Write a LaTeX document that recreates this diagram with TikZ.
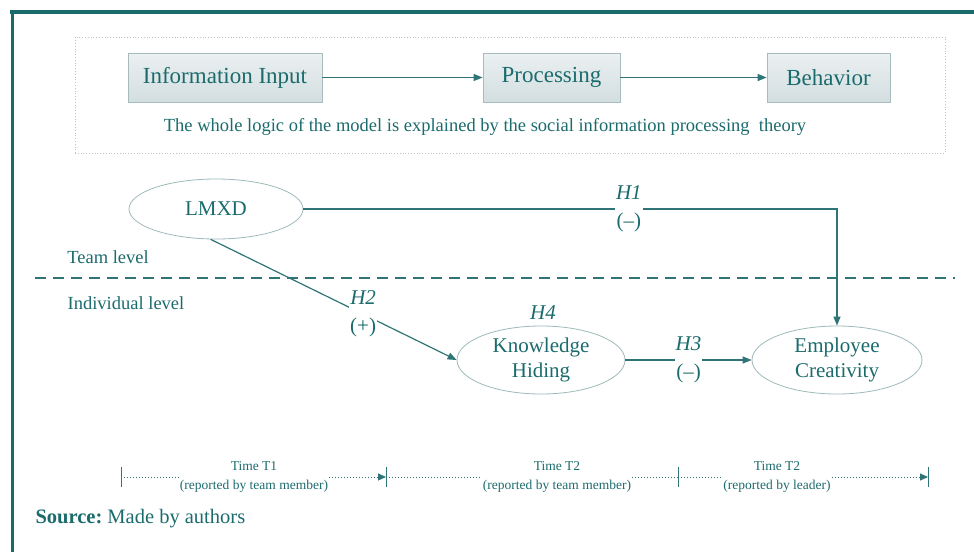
\documentclass[tikz,border=0pt]{standalone}
\usepackage{fontspec}
\setmainfont{Liberation Serif}
\usetikzlibrary{arrows.meta,shapes.geometric}
\definecolor{teal1}{HTML}{1B6B6D}
\definecolor{line1}{HTML}{2F7476}
\definecolor{ebord}{HTML}{9FB9BB}
\definecolor{bbord}{HTML}{A7BABC}
\definecolor{btop}{HTML}{EBF0F1}
\definecolor{bbot}{HTML}{D3DEE0}
\definecolor{dotg}{HTML}{B7C6C8}
\tikzset{
  sbox/.style={draw=bbord,line width=0.8pt,top color=btop,bottom color=bbot,minimum height=49pt,inner sep=0pt,text=teal1,font=\fontsize{23}{24}\selectfont},
  ell/.style={ellipse,draw=ebord,line width=0.8pt,inner sep=0pt,text=teal1,align=center,font=\fontsize{21}{25}\selectfont},
  conn/.style={draw=line1,line width=1.2pt,-{Triangle[length=9pt,width=7pt]}},
  hlab/.style={fill=white,inner sep=1pt,align=center,text=teal1,font=\fontsize{21}{28}\selectfont},
  lvl/.style={text=teal1,font=\fontsize{18.5}{20}\selectfont},
  tlab/.style={text=teal1,align=center,font=\fontsize{13.5}{19}\selectfont,inner sep=1pt},
  tl/.style={draw=line1,line width=1pt,dotted},
}
\begin{document}
\begin{tikzpicture}[x=1pt,y=-1pt]
\useasboundingbox (0,0) rectangle (974,552);
% frame
\draw[teal1,line width=4pt] (10,12) -- (974,12);
\draw[teal1,line width=3pt] (12,10) -- (12,552);
% top panel
\node[draw=dotg,dotted,line width=0.8pt,minimum width=870pt,minimum height=116pt,inner sep=0pt] (panel) at (510,95) {};
\node[sbox,minimum width=194pt] (inp) at (225,77.5) {Information Input};
\node[sbox,minimum width=137pt] (proc) at (551.5,77.5) {Processing};
\node[sbox,minimum width=123pt] (beh) at (828.5,77.5) {Behavior};
\draw[conn] (inp) -- (proc);
\draw[conn] (proc) -- (beh);
\node[text=teal1,font=\fontsize{18.5}{20}\selectfont] (cap) at (485,127) {The whole logic of the model is explained by the social information processing\ \ theory};
% levels
\draw[line1,line width=1.2pt,dash pattern=on 11pt off 7pt] (35,278) coordinate (dl) -- (955,278) coordinate (dr);
\node[lvl] (team) at (108,257) {Team level};
\node[lvl] (indiv) at (126,303) {Individual level};
% ellipses
\node[ell,minimum width=174pt,minimum height=60pt] (lmxd) at (216,209) {LMXD};
\node[ell,minimum width=168pt,minimum height=68pt] (kh) at (541,360) {Knowledge\\Hiding};
\node[ell,minimum width=170pt,minimum height=68pt] (ec) at (837,360) {Employee\\Creativity};
\node[text=teal1,font=\fontsize{21}{24}\selectfont\itshape] (h4) at (543,313) {H4};
% connectors
\draw[conn] (lmxd.east) -| node[hlab,pos=0.305] (h1) {\itshape H1\\(–)} (ec.north);
\draw[conn] (lmxd.-100) -- node[hlab,pos=0.62] (h2) {\itshape H2\\(+)} (kh.west);
\draw[conn] (kh.east) -- node[hlab,pos=0.5] (h3) {\itshape H3\\(–)} (ec.west);
% timeline
\coordinate (t0) at (121,477);
\coordinate (t1) at (386,477);
\coordinate (t2) at (678,477);
\coordinate (t3) at (928,477);
\foreach \t in {t0,t1,t2,t3}{\draw[line1,line width=1pt] ([yshift=-10pt]\t) -- ([yshift=10pt]\t);}
\node[tlab] (l1) at (254,477) {Time T1\\(reported by team member)};
\node[tlab] (l2) at (557,477) {Time T2\\(reported by team member)};
\node[tlab] (l3) at (777,477) {Time T2\\(reported by leader)};
\draw[tl] (t0) -- (t0 -| l1.west);
\draw[tl,-{Triangle[length=8pt,width=7pt]}] (t1 -| l1.east) -- (t1);
\draw[tl] (t1) -- (t1 -| l2.west);
\draw[tl] (t2 -| l2.east) -- (t2);
\draw[tl] (t2) -- (t2 -| l3.west);
\draw[tl,-{Triangle[length=8pt,width=7pt]}] (t3 -| l3.east) -- (t3);
\node[anchor=west,text=teal1,font=\fontsize{20.5}{24}\selectfont] (src) at (32,519) {\textbf{Source:}~Made by authors};
\end{tikzpicture}
\end{document}
